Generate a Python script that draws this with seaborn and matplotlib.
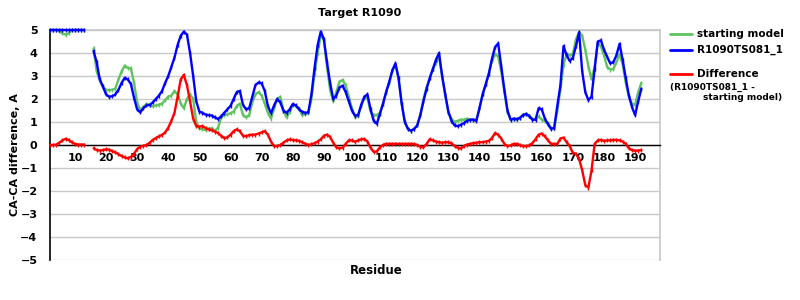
import numpy as np
import pandas as pd
import matplotlib
matplotlib.use("Agg")
import matplotlib.pyplot as plt
import seaborn as sns
from matplotlib.lines import Line2D

# ---------------- data ----------------
res_seg1 = list(range(2, 14))
starting_seg1 = [5.0, 5.0, 5.0, 4.95, 4.85, 4.8, 4.85, 5.0, 5.0, 5.0, 5.0, 5.0]
model_seg1 = [5.0] * 12
diff_seg1 = [0.0, 0.0, 0.02, 0.1, 0.2, 0.27, 0.22, 0.12, 0.05, 0.02, 0.02, 0.02]

res_seg2 = list(range(16, 193))
model_seg2 = [
    4.08, 3.6, 2.85, 2.55, 2.2, 2.1, 2.12, 2.2, 2.4, 2.7,            # 16-25
    2.92, 2.85, 2.65, 2.05, 1.55, 1.42, 1.6, 1.72, 1.74, 1.85,       # 26-35
    2.0, 2.15, 2.35, 2.7, 3.0, 3.4, 3.8, 4.35, 4.75, 4.93,           # 36-45
    4.8, 4.0, 3.0, 1.9, 1.45, 1.4, 1.32, 1.3, 1.28, 1.2,             # 46-55
    1.13, 1.25, 1.4, 1.55, 1.7, 2.0, 2.3, 2.35, 1.75, 1.55,          # 56-65
    1.6, 2.1, 2.6, 2.72, 2.68, 2.35, 1.7, 1.38, 1.72, 2.0,           # 66-75
    1.85, 1.5, 1.4, 1.55, 1.78, 1.72, 1.55, 1.45, 1.4, 1.42,         # 76-85
    2.2, 3.35, 4.35, 4.93, 4.6, 3.6, 2.7, 2.0, 2.15, 2.5,            # 86-95
    2.58, 2.3, 1.9, 1.5, 1.28, 1.3, 1.75, 2.1, 2.2, 1.55,            # 96-105
    1.05, 0.92, 1.35, 1.8, 2.3, 2.75, 3.25, 3.55, 2.9, 1.8,          # 106-115
    1.0, 0.7, 0.62, 0.7, 0.85, 1.3, 1.9, 2.45, 2.9, 3.3,             # 116-125
    3.7, 4.0, 3.0, 2.2, 1.45, 1.05, 0.85, 0.82, 0.88, 0.95,          # 126-135
    1.05, 1.1, 1.1, 1.05, 1.6, 2.2, 2.65, 3.1, 3.75, 4.25,           # 136-145
    4.42, 3.4, 2.4, 1.5, 1.1, 1.15, 1.12, 1.18, 1.3, 1.35,           # 146-155
    1.25, 1.1, 1.1, 1.6, 1.55, 1.15, 0.9, 0.7, 0.75, 1.7,            # 156-165
    2.6, 4.3, 3.9, 3.65, 3.8, 4.3, 4.9, 3.2, 2.3, 1.95,              # 166-175
    2.1, 3.3, 4.5, 4.55, 4.15, 3.84, 3.55, 3.6, 3.9, 4.4,            # 176-185
    3.7, 2.9, 2.15, 1.65, 1.3, 1.9, 2.45,                            # 186-192
]
starting_seg2 = [
    4.2, 3.2, 2.8, 2.5, 2.4, 2.38, 2.4, 2.45, 2.85, 3.2,             # 16-25
    3.45, 3.35, 3.33, 2.7, 1.85, 1.52, 1.65, 1.78, 1.75, 1.68,       # 26-35
    1.72, 1.75, 1.8, 1.95, 2.1, 2.15, 2.35, 2.2, 1.8, 1.6,           # 36-45
    2.0, 2.2, 2.0, 1.0, 0.72, 0.68, 0.65, 0.7, 0.72, 0.62,           # 46-55
    0.75, 1.2, 1.3, 1.33, 1.38, 1.45, 1.7, 1.8, 1.3, 1.2,            # 56-65
    1.3, 1.85, 2.2, 2.3, 2.15, 1.8, 1.4, 1.15, 1.6, 2.0,             # 66-75
    2.1, 1.5, 1.2, 1.45, 1.75, 1.7, 1.6, 1.3, 1.35, 1.4,             # 76-85
    2.0, 3.1, 4.0, 4.78, 4.55, 3.4, 2.4, 1.9, 2.3, 2.75,             # 86-95
    2.83, 2.6, 2.1, 1.6, 1.22, 1.25, 1.7, 2.05, 2.05, 1.45,          # 96-105
    1.3, 1.3, 1.4, 1.8, 2.3, 2.7, 3.2, 3.5, 2.9, 1.8,                # 106-115
    1.0, 0.7, 0.62, 0.7, 0.85, 1.35, 2.0, 2.5, 2.9, 3.3,             # 116-125
    3.55, 3.85, 3.0, 2.15, 1.4, 1.15, 1.0, 1.05, 1.1, 1.1,           # 126-135
    1.15, 1.1, 1.1, 1.1, 1.6, 2.2, 2.6, 3.1, 3.65, 3.95,             # 136-145
    3.85, 3.2, 2.3, 1.45, 1.1, 1.12, 1.1, 1.18, 1.32, 1.35,          # 146-155
    1.28, 1.15, 1.1, 1.25, 1.1, 1.05, 0.95, 0.75, 0.7, 1.5,          # 156-165
    2.4, 3.5, 3.95, 3.9, 3.95, 4.6, 4.9, 4.75, 4.15, 3.4,            # 166-175
    2.85, 3.4, 4.4, 4.3, 3.9, 3.4, 3.28, 3.3, 3.6, 3.95,             # 176-185
    3.5, 2.7, 2.1, 1.8, 1.74, 2.3, 2.7,                              # 186-192
]
diff_seg2 = [
    -0.14, -0.22, -0.24, -0.22, -0.19, -0.2, -0.27, -0.32, -0.4, -0.48,   # 16-25
    -0.54, -0.58, -0.52, -0.38, -0.18, -0.07, -0.04, 0.0, 0.1, 0.22,      # 26-35
    0.3, 0.38, 0.44, 0.55, 0.75, 1.05, 1.4, 2.1, 2.85, 3.05,              # 36-45
    2.6, 1.9, 1.15, 0.82, 0.8, 0.82, 0.74, 0.68, 0.64, 0.58,              # 46-55
    0.52, 0.4, 0.3, 0.33, 0.45, 0.6, 0.68, 0.6, 0.4, 0.38,                # 56-65
    0.43, 0.45, 0.45, 0.5, 0.55, 0.6, 0.45, 0.15, -0.05, -0.05,           # 66-75
    0.0, 0.1, 0.2, 0.24, 0.22, 0.2, 0.18, 0.12, 0.06, 0.0,                # 76-85
    0.03, 0.08, 0.15, 0.25, 0.4, 0.45, 0.35, 0.1, -0.1, -0.15,            # 86-95
    -0.12, 0.05, 0.2, 0.2, 0.14, 0.2, 0.25, 0.26, 0.15, -0.12,            # 96-105
    -0.3, -0.28, -0.1, 0.0, 0.05, 0.05, 0.05, 0.05, 0.05, 0.05,           # 106-115
    0.05, 0.05, 0.05, 0.04, 0.0, -0.08, -0.1, 0.05, 0.25, 0.2,            # 116-125
    0.15, 0.12, 0.1, 0.12, 0.12, 0.08, -0.05, -0.12, -0.15, -0.05,        # 126-135
    0.02, 0.05, 0.08, 0.1, 0.12, 0.12, 0.15, 0.18, 0.3, 0.52,             # 136-145
    0.45, 0.28, 0.05, -0.05, -0.02, 0.05, 0.05, 0.0, -0.05, -0.05,        # 146-155
    -0.02, 0.08, 0.25, 0.45, 0.5, 0.38, 0.2, 0.05, 0.05, 0.05,            # 156-165
    0.28, 0.32, 0.12, -0.05, -0.35, -0.38, -0.6, -1.1, -1.75, -1.85,      # 166-175
    -1.1, 0.05, 0.2, 0.22, 0.18, 0.2, 0.2, 0.22, 0.22, 0.2,               # 176-185
    0.15, 0.05, -0.15, -0.22, -0.25, -0.24, -0.22,                        # 186-192
]

series_names = ["starting model", "R1090TS081_1", "Difference"]
series_colors = ["#5FC35F", "#0000FF", "#FF0000"]
x_ticks = list(range(10, 200, 10))
y_ticks = list(range(-5, 6))
y_tick_labels = ["\u22125", "\u22124", "\u22123", "\u22122", "\u22121",
                 "0", "1", "2", "3", "4", "5"]

# ---------------- build long table ----------------
frames = []
for name, s1, s2 in [("starting model", starting_seg1, starting_seg2),
                     ("R1090TS081_1", model_seg1, model_seg2),
                     ("Difference", diff_seg1, diff_seg2)]:
    frames.append(pd.DataFrame({"Residue": res_seg1, "value": s1,
                                "series": name, "segment": 1}))
    frames.append(pd.DataFrame({"Residue": res_seg2, "value": s2,
                                "series": name, "segment": 2}))
df = pd.concat(frames, ignore_index=True)

# ---------------- figure ----------------
sns.set_theme(style="white")
plt.rcParams["font.family"] = ["DejaVu Sans"]
plt.rcParams["text.color"] = "black"
plt.rcParams["axes.labelcolor"] = "black"

fig = plt.figure(figsize=(8, 3), dpi=100)
ax = fig.add_axes([50 / 800, 1 - 260 / 300, 610 / 800, 230 / 300])

sns.lineplot(data=df, x="Residue", y="value", hue="series", units="segment",
             estimator=None, palette=dict(zip(series_names, series_colors)),
             hue_order=series_names, linewidth=1.7, marker="|", markersize=3,
             markeredgewidth=1.0, markeredgecolor=None, ax=ax, legend=False,
             clip_on=False, zorder=3)

ax.set_xlim(2, 198)
ax.set_ylim(-5, 5)
ax.set_yticks(y_ticks)
ax.set_yticklabels(y_tick_labels)
ax.set_xticks(x_ticks)
ax.set_xticklabels([str(t) for t in x_ticks])
ax.grid(axis="y", color="#C8C8C8", linewidth=1.0, zorder=0)
ax.grid(axis="x", visible=False)

ax.spines["bottom"].set_position(("data", 0))
ax.spines["bottom"].set_color("black")
ax.spines["bottom"].set_linewidth(1.0)
ax.spines["left"].set_color("black")
ax.spines["left"].set_linewidth(1.2)
ax.spines["top"].set_color("#C8C8C8")
ax.spines["right"].set_color("#C8C8C8")

ax.tick_params(axis="x", direction="out", length=4, color="#B0B0B0",
               labelcolor="black", labelsize=8, pad=2)
ax.tick_params(axis="y", direction="out", length=4, color="#B0B0B0",
               labelcolor="black", labelsize=8, pad=5)
for lab in ax.get_xticklabels() + ax.get_yticklabels():
    lab.set_fontweight("bold")
ax.set_xlabel("")
ax.set_ylabel("")

fig.text(360 / 800, 1 - 13 / 300, "Target R1090", ha="center", va="center",
         fontsize=8, fontweight="bold")
fig.text(15 / 800, 1 - 155 / 300, "CA-CA difference, A", ha="center",
         va="center", rotation=90, fontsize=8, fontweight="bold")
fig.text(376 / 800, 1 - 271 / 300, "Residue", ha="center", va="center",
         fontsize=8.5, fontweight="bold")

# legend (manual, to the right)
for yy, name, color in [(34, series_names[0], series_colors[0]),
                        (50, series_names[1], series_colors[1]),
                        (74, series_names[2], series_colors[2])]:
    fig.add_artist(Line2D([670 / 800, 692 / 800], [1 - yy / 300, 1 - yy / 300],
                          color=color, linewidth=2, transform=fig.transFigure))
    fig.text(697 / 800, 1 - yy / 300, name, ha="left", va="center",
             fontsize=7.5, fontweight="bold")
fig.text(670 / 800, 1 - 87 / 300, "(R1090TS081_1 -", ha="left", va="center",
         fontsize=6.5, fontweight="bold")
fig.text(703 / 800, 1 - 98 / 300, "starting model)", ha="left", va="center",
         fontsize=6.5, fontweight="bold")

fig.savefig("out.png", dpi=100)
